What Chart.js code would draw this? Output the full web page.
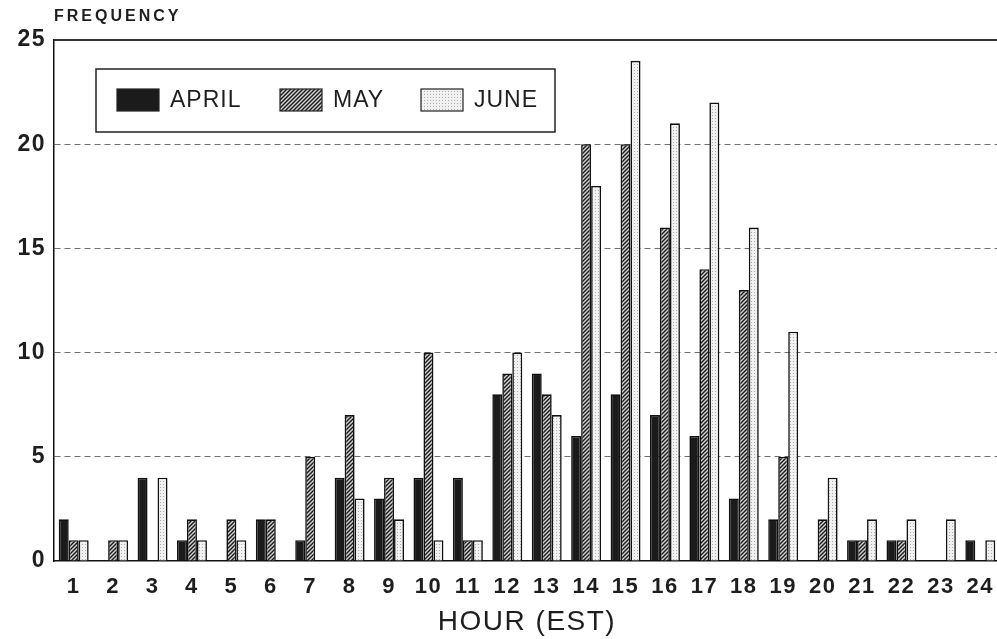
<!DOCTYPE html>
<html>
<head>
<meta charset="utf-8">
<script src="https://cdn.jsdelivr.net/npm/chart.js@4/dist/chart.umd.min.js"></script>
<style>
  html, body { margin: 0; padding: 0; background: #fff; overflow: hidden; }
  #wrap { position: relative; width: 1000px; height: 639px; }
</style>
</head>
<body>
<div id="wrap"><canvas id="c"></canvas></div>
<script>
// Hourly frequency counts, April - June
const hours = ['1','2','3','4','5','6','7','8','9','10','11','12',
               '13','14','15','16','17','18','19','20','21','22','23','24'];
const april = [2, 0, 4, 1, 0, 2, 1, 4, 3, 4, 4, 8, 9, 6, 8, 7, 6, 3, 2, 0, 1, 1, 0, 1];
const may   = [1, 1, 0, 2, 2, 2, 5, 7, 4, 10, 1, 9, 8, 20, 20, 16, 14, 13, 5, 2, 1, 1, 0, 0];
const june  = [1, 1, 4, 1, 1, 0, 0, 3, 2, 1, 1, 10, 7, 18, 24, 21, 22, 16, 11, 4, 2, 2, 2, 1];
const seriesNames = ['APRIL', 'MAY', 'JUNE'];
const yTicks = [0, 5, 10, 15, 20, 25];
const yTitle = 'FREQUENCY';
const xTitle = 'HOUR (EST)';

const canvas = document.getElementById('c');
const ctx2d = canvas.getContext('2d');

// Fill patterns: diagonal hatch and light stipple
function tilePattern(w, h, paint) {
  const t = document.createElement('canvas');
  t.width = w; t.height = h;
  const g = t.getContext('2d');
  paint(g, w, h);
  return ctx2d.createPattern(t, 'repeat');
}
const hatch = tilePattern(4, 4, (g, w, h) => {
  g.fillStyle = '#d2d2d2';
  g.fillRect(0, 0, w, h);
  g.strokeStyle = '#1a1a1a';
  g.lineWidth = 1.4;
  g.beginPath();
  g.moveTo(0, h); g.lineTo(w, 0);
  g.moveTo(-1, 1); g.lineTo(1, -1);
  g.moveTo(w - 1, h + 1); g.lineTo(w + 1, h - 1);
  g.stroke();
});
const stipple = tilePattern(3, 3, (g, w, h) => {
  g.fillStyle = '#f1f1f1';
  g.fillRect(0, 0, w, h);
  g.fillStyle = '#acacac';
  g.fillRect(1, 1, 1, 1);
});

const ink = '#1e1e1e';
const fontFamily = '"Liberation Sans", Arial, sans-serif';

// Slightly widened lettering for all chart text
const spacing = {
  id: 'spacing',
  beforeDraw(chart) { chart.ctx.letterSpacing = '1.5px'; }
};

// Boxed legend inside the plot, plus the heading and the top frame line
const frameAndLegend = {
  id: 'frameAndLegend',
  afterDraw(chart, args, opts) {
    const { ctx, chartArea } = chart;
    ctx.save();
    // top frame line at the axis maximum
    ctx.strokeStyle = '#333';
    ctx.lineWidth = 2;
    ctx.beginPath();
    ctx.moveTo(chartArea.left, chartArea.top);
    ctx.lineTo(chartArea.right, chartArea.top);
    ctx.stroke();

    // heading above the value axis
    ctx.fillStyle = ink;
    ctx.font = 'bold 16px ' + fontFamily;
    ctx.textBaseline = 'middle';
    ctx.textAlign = 'left';
    ctx.letterSpacing = '3px';
    ctx.fillText(yTitle, chartArea.left, 17);
    ctx.letterSpacing = '1px';

    // legend box
    const L = opts.box;
    ctx.strokeStyle = '#222';
    ctx.lineWidth = 1.5;
    ctx.fillStyle = '#fff';
    ctx.fillRect(L.x, L.y, L.w, L.h);
    ctx.strokeRect(L.x, L.y, L.w, L.h);
    ctx.font = '23px ' + fontFamily;
    chart.data.datasets.forEach((ds, i) => {
      const sx = opts.swatchX[i];
      ctx.fillStyle = ds.backgroundColor;
      ctx.fillRect(sx, opts.swatchY, opts.swatchW, opts.swatchH);
      ctx.strokeStyle = '#222';
      ctx.lineWidth = 1.2;
      ctx.strokeRect(sx, opts.swatchY, opts.swatchW, opts.swatchH);
      ctx.fillStyle = ink;
      ctx.textBaseline = 'middle';
      ctx.fillText(ds.label, sx + opts.swatchW + 11, opts.swatchY + opts.swatchH / 2 + 1);
    });
    ctx.restore();
  }
};

const barCommon = {
  borderColor: '#111',
  borderWidth: 1.6,
  categoryPercentage: 0.76,
  barPercentage: 1.0
};

new Chart(canvas, {
  type: 'bar',
  data: {
    labels: hours,
    datasets: [
      Object.assign({ label: seriesNames[0], data: april, backgroundColor: '#1b1b1b' }, barCommon),
      Object.assign({ label: seriesNames[1], data: may, backgroundColor: hatch }, barCommon),
      Object.assign({ label: seriesNames[2], data: june, backgroundColor: stipple }, barCommon)
    ]
  },
  options: {
    responsive: true,
    maintainAspectRatio: false,
    animation: false,
    devicePixelRatio: 1,
    layout: { padding: { top: 40, right: 0, bottom: 0, left: 0 } },
    plugins: {
      legend: { display: false },
      tooltip: { enabled: false },
      frameAndLegend: {
        box: { x: 96, y: 69, w: 459, h: 63 },
        swatchX: [117, 280, 421],
        swatchY: 89,
        swatchW: 42,
        swatchH: 22
      }
    },
    scales: {
      x: {
        type: 'category',
        grid: { display: false, drawTicks: false },
        border: { color: '#111', width: 1.5 },
        ticks: {
          autoSkip: false,
          maxRotation: 0,
          padding: 13,
          color: ink,
          font: { family: fontFamily, size: 22, weight: 'bold' }
        },
        title: {
          display: true,
          text: xTitle,
          color: ink,
          padding: { top: 0, bottom: 0 },
          font: { family: fontFamily, size: 28 }
        },
        afterFit(s) { s.height = 78; s.paddingLeft = 0; s.paddingRight = 0; }
      },
      y: {
        min: 0,
        max: 25,
        afterBuildTicks(s) { s.ticks = yTicks.map(v => ({ value: v })); },
        grid: {
          drawTicks: false,
          lineWidth: 1,
          color: c => (c.tick && (c.tick.value === 0 || c.tick.value === 25)) ? 'rgba(0,0,0,0)' : '#707070'
        },
        border: { color: '#111', width: 1.5, dash: [6, 4] },
        ticks: {
          padding: 8,
          color: ink,
          font: { family: fontFamily, size: 23, weight: 'bold' }
        },
        afterFit(s) { s.width = 54; }
      }
    }
  },
  plugins: [spacing, frameAndLegend]
});
</script>
</body>
</html>
